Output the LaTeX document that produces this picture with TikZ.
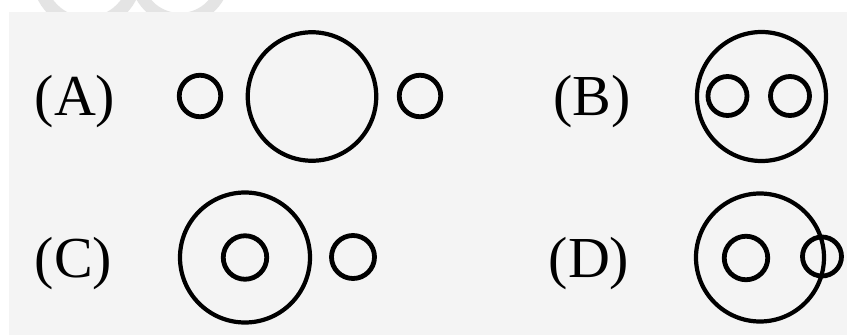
\documentclass[tikz,border=0pt]{standalone}
\usepackage{fontspec}
\setmainfont{Liberation Serif}
\definecolor{bgpanel}{RGB}{244,244,244}
\definecolor{wmark}{RGB}{228,228,228}
\begin{document}
\begin{tikzpicture}[x=1pt,y=1pt,
  lbl/.style={font=\fontsize{58}{58}\selectfont, inner sep=0pt, anchor=base},
  ring/.style={circle, draw=black, line width=4.8pt, inner sep=0pt, minimum size=#1},
  bigring/.style={circle, draw=black, line width=4.2pt, inner sep=0pt, minimum size=#1}]
\useasboundingbox (0,0) rectangle (847,-335);
\fill[white] (0,0) rectangle (847,-335);
% faint watermark rings in the top band
\begin{scope}
\clip (0,0) rectangle (847,-12);
\fill[wmark, even odd rule] (87,25) circle (55) (87,25) circle (42);
\fill[wmark, even odd rule] (180,25) circle (50) (180,25) circle (38);
\end{scope}
\fill[bgpanel] (9,-12) rectangle (847,-335);
% labels
\node[lbl] (la) at (75,-115) {(A)};
\node[lbl] (lb) at (592,-115) {(B)};
\node[lbl] (lc) at (73.5,-277) {(C)};
\node[lbl] (ld) at (589,-277) {(D)};
% (A)
\node[ring=41.5pt] (a1) at (200,-96) {};
\node[bigring=128.5pt] (a2) at (312,-96.5) {};
\node[ring=41.5pt] (a3) at (420,-96) {};
% (B)
\node[bigring=129pt] (b0) at (761.5,-96.5) {};
\node[ring=39pt] (b1) at (727.5,-96) {};
\node[ring=39pt] (b2) at (790,-96) {};
% (C)
\node[bigring=130pt] (c0) at (245,-257.5) {};
\node[ring=43.5pt] (c1) at (245,-257.5) {};
\node[ring=43pt] (c2) at (353,-257) {};
% (D)
\node[bigring=128pt] (d0) at (760,-257.5) {};
\node[ring=43.5pt] (d1) at (746,-258) {};
\node[ring=39pt] (d2) at (822,-256.5) {};
\end{tikzpicture}
\end{document}
